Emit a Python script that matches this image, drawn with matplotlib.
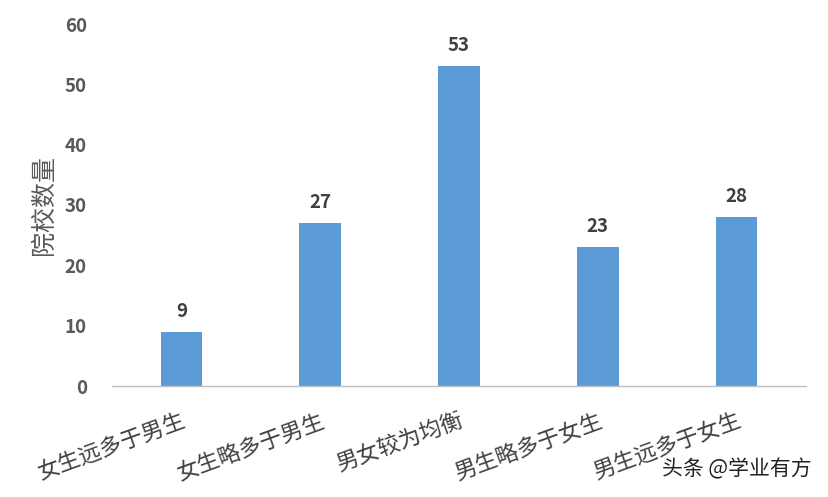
import matplotlib
matplotlib.use("Agg")
import matplotlib.pyplot as plt

plt.rcParams['font.family'] = ['Noto Sans CJK SC', 'DejaVu Sans']

categories = ["女生远多于男生", "女生略多于男生", "男女较为均衡", "男生略多于女生", "男生远多于女生"]
counts = [9, 27, 53, 23, 28]
yticks = [0, 10, 20, 30, 40, 50, 60]

fig = plt.figure(figsize=(8.29, 4.97), dpi=100)
ax = fig.add_axes([112/829, 1-386/497, 694/829, 362/497])

x = list(range(len(categories)))
bars = ax.bar(x, counts, width=0.3, color="#5B9BD5", zorder=2)
for xi, v in zip(x, counts):
    ax.annotate(str(v), (xi, v), xytext=(0, 8), textcoords="offset points",
                ha="center", va="bottom", fontsize=13.5, fontweight="bold", color="#404040")

ax.set_xlim(-0.5, len(categories) - 0.5)
ax.set_ylim(0, 60)
ax.set_yticks(yticks)
ax.set_yticklabels([str(t) for t in yticks], fontsize=13.5, fontweight="bold", color="#595959")
ax.set_xticks(x)
ax.set_xticklabels(categories, rotation=20, ha="right", rotation_mode="anchor",
                   fontsize=16, color="#404040")
ax.tick_params(axis="y", length=0, pad=18)
ax.tick_params(axis="x", length=0, pad=17)
for s in ["top", "right", "left"]:
    ax.spines[s].set_visible(False)
ax.spines["bottom"].set_color("#BFBFBF")
ax.spines["bottom"].set_linewidth(1)
ax.set_ylabel("院校数量", fontsize=18, color="#595959", labelpad=6)

fig.text(812/829, 1-469/497, "头条 @学业有方", ha="right", va="center", fontsize=15, color="#222222")

fig.savefig("out.png", dpi=100)
